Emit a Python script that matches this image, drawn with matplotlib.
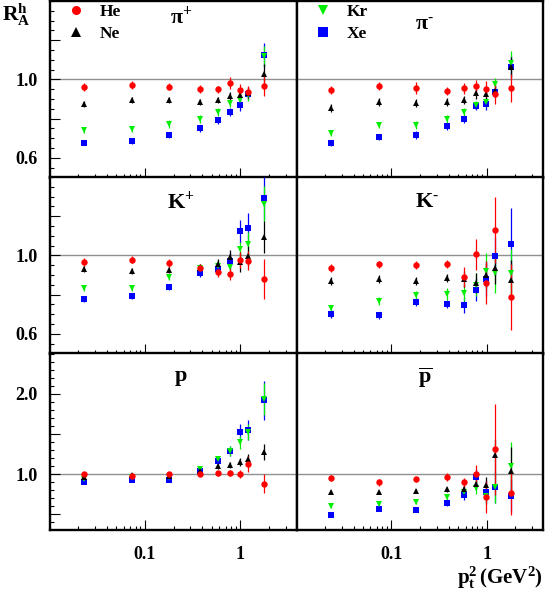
import numpy as np
import matplotlib
matplotlib.use('Agg')
import matplotlib.pyplot as plt
from matplotlib.ticker import FixedLocator, FixedFormatter, NullFormatter, LogLocator
from matplotlib.lines import Line2D

plt.rcParams['font.family'] = ['Liberation Serif', 'DejaVu Serif']
plt.rcParams['font.weight'] = 'bold'
plt.rcParams['mathtext.fontset'] = 'custom'
plt.rcParams['mathtext.rm'] = 'Liberation Serif:bold'
plt.rcParams['mathtext.it'] = 'Liberation Serif:bold'
plt.rcParams['mathtext.bf'] = 'Liberation Serif:bold'

# ---- data ----
pt2 = [0.023, 0.074, 0.18, 0.38, 0.58, 0.78, 0.98, 1.21, 1.78]

# pi+
pip_he = [0.962, 0.973, 0.964, 0.950, 0.949, 0.981, 0.947, 0.938, 0.968]
pip_ne = [0.874, 0.894, 0.894, 0.887, 0.894, 0.916, 0.921, 0.933, 1.027]
pip_kr = [0.740, 0.745, 0.774, 0.800, 0.836, 0.879, 0.897, 0.920, 1.121]
pip_xe = [0.677, 0.684, 0.715, 0.750, 0.791, 0.834, 0.868, 0.925, 1.125]
pip_he_err = [0.02, 0.02, 0.02, 0.02, 0.02, 0.03, 0.03, 0.03, 0.05]
pip_ne_err = [0.015, 0.015, 0.015, 0.015, 0.015, 0.02, 0.02, 0.03, 0.05]
pip_kr_err = [0.015, 0.015, 0.02, 0.02, 0.02, 0.02, 0.03, 0.03, 0.05]
pip_xe_err = [0.012, 0.015, 0.015, 0.02, 0.02, 0.02, 0.03, 0.03, 0.06]

# pi-
pim_he = [0.947, 0.968, 0.957, 0.942, 0.954, 0.969, 0.952, 0.925, 0.956]
pim_ne = [0.856, 0.887, 0.882, 0.885, 0.897, 0.932, 0.925, 0.942, 1.062]
pim_kr = [0.726, 0.766, 0.768, 0.800, 0.834, 0.872, 0.887, 0.976, 1.084]
pim_xe = [0.674, 0.706, 0.718, 0.764, 0.798, 0.865, 0.875, 0.935, 1.065]
pim_he_err = [0.02, 0.02, 0.03, 0.02, 0.03, 0.03, 0.04, 0.05, 0.07]
pim_ne_err = [0.02, 0.02, 0.02, 0.02, 0.02, 0.03, 0.03, 0.03, 0.05]
pim_kr_err = [0.015, 0.015, 0.02, 0.02, 0.02, 0.02, 0.03, 0.03, 0.06]
pim_xe_err = [0.012, 0.015, 0.02, 0.02, 0.02, 0.02, 0.03, 0.03, 0.06]

# K+
kp_he = [0.966, 0.979, 0.960, 0.938, 0.918, 0.904, 0.978, 0.974, 0.880]
kp_ne = [0.930, 0.920, 0.925, 0.937, 0.954, 0.990, 0.967, 0.996, 1.095]
kp_kr = [0.834, 0.836, 0.891, 0.938, 0.945, 0.942, 1.031, 1.058, 1.263]
kp_xe = [0.778, 0.791, 0.839, 0.908, 0.931, 0.972, 1.123, 1.138, 1.292]
kp_he_err = [0.02, 0.02, 0.02, 0.02, 0.03, 0.03, 0.04, 0.05, 0.10]
kp_ne_err = [0.015, 0.015, 0.015, 0.02, 0.03, 0.04, 0.05, 0.05, 0.08]
kp_kr_err = [0.015, 0.015, 0.015, 0.02, 0.03, 0.03, 0.04, 0.06, 0.09]
kp_xe_err = [0.015, 0.015, 0.015, 0.02, 0.03, 0.04, 0.06, 0.08, 0.11]

# K-
km_he = [0.935, 0.954, 0.952, 0.955, 0.889, 1.005, 0.862, 1.130, 0.788]
km_ne = [0.870, 0.882, 0.868, 0.887, 0.880, 0.860, 0.900, 0.936, 0.877]
km_kr = [0.732, 0.766, 0.797, 0.805, 0.808, 0.851, 0.920, 0.911, 0.913]
km_xe = [0.702, 0.694, 0.761, 0.752, 0.749, 0.826, 0.882, 0.996, 1.060]
km_he_err = [0.02, 0.02, 0.02, 0.02, 0.05, 0.08, 0.11, 0.17, 0.17]
km_ne_err = [0.02, 0.02, 0.02, 0.02, 0.04, 0.05, 0.06, 0.08, 0.10]
km_kr_err = [0.015, 0.02, 0.02, 0.03, 0.04, 0.06, 0.09, 0.10, 0.12]
km_xe_err = [0.02, 0.02, 0.02, 0.02, 0.04, 0.06, 0.09, 0.10, 0.18]

# p
p_he = [1.000, 0.983, 1.000, 1.000, 1.012, 1.016, 1.000, 1.129, 0.879]
p_ne = [0.970, 0.990, 0.980, 1.040, 1.100, 1.116, 1.150, 1.187, 1.279]
p_kr = [0.945, 0.966, 0.966, 1.058, 1.187, 1.291, 1.395, 1.525, 1.937]
p_xe = [0.908, 0.933, 0.929, 1.045, 1.170, 1.287, 1.520, 1.550, 1.920]
p_he_err = [0.02, 0.02, 0.02, 0.02, 0.03, 0.04, 0.05, 0.10, 0.12]
p_ne_err = [0.02, 0.02, 0.02, 0.02, 0.03, 0.04, 0.05, 0.06, 0.10]
p_kr_err = [0.02, 0.02, 0.02, 0.03, 0.04, 0.06, 0.08, 0.10, 0.20]
p_xe_err = [0.02, 0.02, 0.02, 0.03, 0.04, 0.06, 0.10, 0.12, 0.24]

# p-bar
pb_he = [0.950, 0.896, 0.937, 0.962, 0.896, 1.008, 0.712, 1.308, 0.766]
pb_ne = [0.783, 0.775, 0.791, 0.812, 0.821, 0.879, 0.862, 1.233, 1.033]
pb_kr = [0.604, 0.625, 0.654, 0.716, 0.779, 0.833, 0.733, 0.837, 1.096]
pb_xe = [0.487, 0.566, 0.558, 0.645, 0.741, 0.962, 0.783, 0.837, 0.729]
pb_he_err = [0.04, 0.04, 0.03, 0.05, 0.06, 0.10, 0.20, 0.57, 0.27]
pb_ne_err = [0.02, 0.02, 0.02, 0.03, 0.04, 0.06, 0.10, 0.20, 0.30]
pb_kr_err = [0.03, 0.03, 0.03, 0.04, 0.06, 0.08, 0.10, 0.20, 0.30]
pb_xe_err = [0.02, 0.03, 0.02, 0.04, 0.06, 0.10, 0.15, 0.20, 0.20]

panel_labels = [r'$\mathrm{\pi^{+}}$', r'$\mathrm{\pi^{\text{-}}}$', r'$\mathrm{K^{+}}$',
                r'$\mathrm{K^{\text{-}}}$', r'$\mathrm{p}$', r'$\overline{\mathrm{p}}$']
nuclei = ['He', 'Ne', 'Kr', 'Xe']
colors = {'He': '#ff0000', 'Ne': '#000000', 'Kr': '#00ee00', 'Xe': '#0000ff'}
markers = {'He': 'o', 'Ne': '^', 'Kr': 'v', 'Xe': 's'}

panels = [
    {'He': (pip_he, pip_he_err), 'Ne': (pip_ne, pip_ne_err), 'Kr': (pip_kr, pip_kr_err), 'Xe': (pip_xe, pip_xe_err)},
    {'He': (pim_he, pim_he_err), 'Ne': (pim_ne, pim_ne_err), 'Kr': (pim_kr, pim_kr_err), 'Xe': (pim_xe, pim_xe_err)},
    {'He': (kp_he, kp_he_err), 'Ne': (kp_ne, kp_ne_err), 'Kr': (kp_kr, kp_kr_err), 'Xe': (kp_xe, kp_xe_err)},
    {'He': (km_he, km_he_err), 'Ne': (km_ne, km_ne_err), 'Kr': (km_kr, km_kr_err), 'Xe': (km_xe, km_xe_err)},
    {'He': (p_he, p_he_err), 'Ne': (p_ne, p_ne_err), 'Kr': (p_kr, p_kr_err), 'Xe': (p_xe, p_xe_err)},
    {'He': (pb_he, pb_he_err), 'Ne': (pb_ne, pb_ne_err), 'Kr': (pb_kr, pb_kr_err), 'Xe': (pb_xe, pb_xe_err)},
]

# ---- layout ----
W, H = 545, 598
fig = plt.figure(figsize=(W / 100, H / 100), dpi=100)
col_x = [50 / W, 297 / W]
col_w = [247 / W, 246 / W]
row_top = [1, 177, 353]
row_h = 176.5

label_pos = [(0.53, 0.91), (0.52, 0.86), (0.53, 0.86), (0.53, 0.86), (0.53, 0.86), (0.52, 0.86)]

for i, data in enumerate(panels):
    r, c = divmod(i, 2)
    ax = fig.add_axes([col_x[c], 1 - (row_top[r] + row_h) / H, col_w[c], row_h / H])
    ax.set_xscale('log')
    ax.set_xlim(0.0102, 3.9)
    if r < 2:
        ax.set_ylim(0.5, 1.4)
        ax.yaxis.set_major_locator(FixedLocator([0.6, 0.8, 1.0, 1.2]))
        ax.yaxis.set_minor_locator(FixedLocator(np.arange(0.5, 1.41, 0.05)))
        ax.yaxis.set_major_formatter(FixedFormatter(['0.6', '', '1.0', '']))
    else:
        ax.set_ylim(0.31, 2.51)
        ax.yaxis.set_major_locator(FixedLocator([0.5, 1.0, 1.5, 2.0]))
        ax.yaxis.set_minor_locator(FixedLocator(np.arange(0.4, 2.51, 0.1)))
        ax.yaxis.set_major_formatter(FixedFormatter(['', '1.0', '', '2.0']))
    ax.axhline(1.0, color='#909090', lw=1.0, zorder=1)
    for nuc in ['Xe', 'Kr', 'Ne', 'He']:
        vals, errs = data[nuc]
        ax.errorbar(pt2, vals, yerr=errs, fmt=markers[nuc], color=colors[nuc],
                    ms=4.2 if nuc != 'He' else 4.6, mew=0, elinewidth=0.9, capsize=2.2,
                    capthick=0.9, ecolor=colors[nuc], alpha=1.0, zorder=3)
    ax.text(label_pos[i][0], label_pos[i][1], panel_labels[i], transform=ax.transAxes,
            ha='center', va='center', fontsize=16)
    ax.tick_params(which='both', direction='in', top=False, right=False, labelsize=13, width=0.8)
    ax.tick_params(which='major', length=7)
    ax.tick_params(which='minor', length=3)
    ax.tick_params(axis='y', pad=9)
    ax.tick_params(axis='x', pad=12)
    ax.xaxis.set_major_locator(LogLocator(base=10, numticks=10))
    ax.xaxis.set_minor_locator(LogLocator(base=10, subs=np.arange(2, 10), numticks=20))
    ax.xaxis.set_minor_formatter(NullFormatter())
    if r == 2:
        ax.set_xticks([0.1, 1])
        ax.set_xticklabels(['0.1', '1'])
    else:
        ax.tick_params(axis='x', labelbottom=False)
    if c == 1:
        ax.tick_params(axis='y', which='both', left=False, labelleft=False)
    for s in ax.spines.values():
        s.set_linewidth(1.7)

    if i in (0, 1):
        nucs = ['He', 'Ne'] if i == 0 else ['Kr', 'Xe']
        handles = [Line2D([], [], ls='none', marker=markers[n], color=colors[n], ms=6.5, mew=0)
                   for n in nucs]
        ax.legend(handles, nucs, loc='upper left', bbox_to_anchor=(0.015, 1.06), frameon=False,
                  fontsize=12.5, handlelength=1.0, handletextpad=0.85, labelspacing=0.3,
                  borderpad=0.3)

fig.text(0.003, 1 - 21 / H, r'$\mathrm{R_A^h}$', fontsize=15.5, ha='left', va='baseline')
fig.text(0.996, 1 - 584 / H, r'$\mathrm{p_t^2\,(GeV^2)}$', fontsize=15, ha='right', va='baseline')

fig.savefig('out.png', dpi=100)
